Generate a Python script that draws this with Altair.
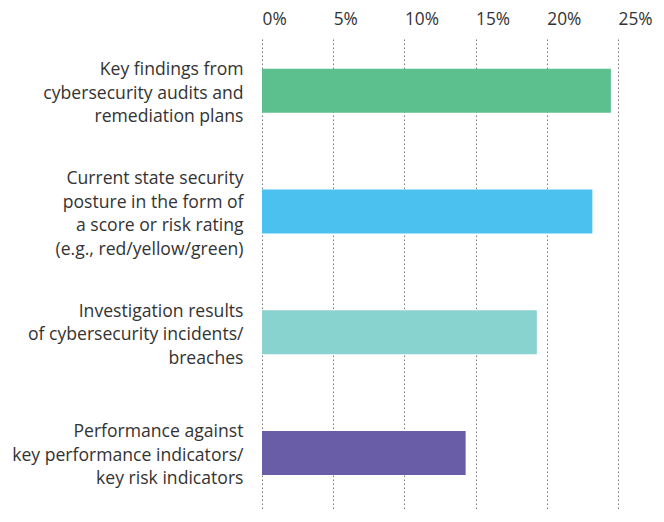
import altair as alt
import pandas as pd

categories = [
    "Key findings from\ncybersecurity audits and\nremediation plans",
    "Current state security\nposture in the form of\na score or risk rating\n(e.g., red/yellow/green)",
    "Investigation results\nof cybersecurity incidents/\nbreaches",
    "Performance against\nkey performance indicators/\nkey risk indicators",
]
values = [24.5, 23.2, 19.3, 14.3]
colors = ["#5CC08E", "#4BC1EF", "#88D2D0", "#695DA8"]
tick_values = [0, 5, 10, 15, 20, 25]

df = pd.DataFrame({"category": categories, "value": values, "color": colors})

FONT = "Open Sans"
TEXT = "#333333"
LINE_H = 23.5

chart = (
    alt.Chart(df)
    .mark_bar()
    .encode(
        x=alt.X(
            "value:Q",
            scale=alt.Scale(domain=[0, 25], nice=False),
            axis=alt.Axis(
                orient="top",
                values=tick_values,
                labelExpr="datum.value + '%'",
                title=None,
                domain=False,
                ticks=False,
                labelAlign="left",
                labelPadding=11,
                labelFontSize=17.3,
                labelFont=FONT,
                labelColor=TEXT,
                grid=True,
                gridDash=[1.5, 2.5],
                gridColor="#777777",
                gridWidth=1,
            ),
        ),
        y=alt.Y(
            "category:N",
            sort=categories,
            scale=alt.Scale(paddingInner=0.6355, paddingOuter=0.269, align=0.46, round=False),
            axis=alt.Axis(
                title=None,
                domain=False,
                ticks=False,
                grid=False,
                labelExpr="split(datum.label, '\\n')",
                labelAlign="right",
                labelBaseline="middle",
                labelOffset=alt.ExprRef(
                    f"-(length(split(datum.label, '\\n')) - 1) * {LINE_H / 2} + 3"
                ),
                labelPadding=19,
                labelFontSize=17.6,
                labelLineHeight=LINE_H,
                labelFont=FONT,
                labelColor=TEXT,
                labelLimit=400,
            ),
        ),
        color=alt.Color("color:N", scale=None, legend=None),
    )
    .properties(
        width=356,
        height=471,
        autosize=alt.AutoSizeParams(type="none"),
        padding={"left": 254, "top": 31, "right": 38, "bottom": 4},
    )
    .configure_view(stroke=None)
)

chart.save("out.html", embed_options={"renderer": "svg", "actions": False})
